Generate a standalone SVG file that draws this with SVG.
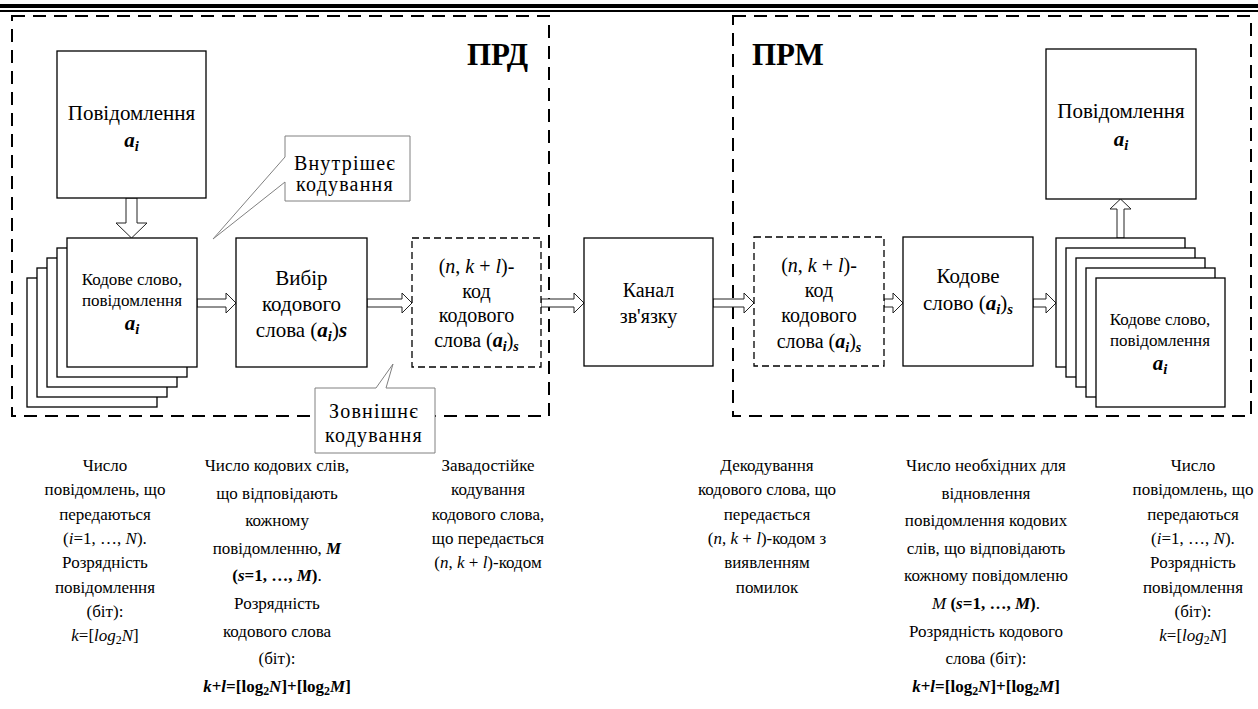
<svg xmlns="http://www.w3.org/2000/svg" width="1258" height="709" viewBox="0 0 1258 709" font-family="'Liberation Serif','Times New Roman',serif">
<style>
text{font-family:"Liberation Serif","Times New Roman",serif;fill:#000}
.box{fill:#fff;stroke:#000;stroke-width:1.3}
.cont{fill:none;stroke:#000;stroke-width:2;stroke-dasharray:13 8}
.dbox{fill:#fff;stroke:#000;stroke-width:1.3;stroke-dasharray:7 4}
.arr{fill:#fff;stroke:#222;stroke-width:1}
.call{fill:#fff;stroke:#808080;stroke-width:1}
.big{font-size:21px}
.mid{font-size:20px}
.sm{font-size:17px}
.bt{font-size:17px}
.ttl{font-size:31px;font-weight:bold}
.b{font-weight:bold}
.i{font-style:italic}
.bi{font-weight:bold;font-style:italic}
.sub{font-size:70%}
.ls{letter-spacing:1.2px}
</style>
<rect x="0" y="4" width="1258" height="4" fill="#000"/>
<rect x="0" y="10" width="1258" height="2" fill="#000"/>
<g id="containers">
<g id="prd"><rect class="cont" x="12" y="16" width="537" height="400"/><text class="ttl" x="467" y="65">ПРД</text></g>
<g id="prm"><rect class="cont" x="733" y="16" width="518" height="400"/><text class="ttl" x="752" y="65">ПРМ</text></g>
</g>
<g id="connectors">
<path class="arr" d="M126,198 H137 V223 H147 L131.5,238 L116,223 H126 Z"/>
<path class="arr" d="M1117,238 V209 H1110 L1120.5,199 L1131,209 H1124 V238 Z"/>
<path class="arr" d="M197,299 H226 V293 L236,303 L226,313 V307 H197 Z"/>
<path class="arr" d="M367,299 H402 V293 L412,303 L402,313 V307 H367 Z"/>
<path class="arr" d="M541,299 H574 V293 L584,303 L574,313 V307 H541 Z"/>
<path class="arr" d="M713,299 H744 V293 L754,303 L744,313 V307 H713 Z"/>
<path class="arr" d="M884,299 H893 V293 L903,303 L893,313 V307 H884 Z"/>
<path class="arr" d="M1033,299 H1046 V293 L1056,303 L1046,313 V307 H1033 Z"/>
</g>
<g id="msg-left"><rect class="box" x="57" y="51" width="149" height="147"/>
<text class="big" x="131.5" y="120" text-anchor="middle">Повідомлення</text>
<text class="big" x="131.5" y="147" text-anchor="middle"><tspan class="bi">a</tspan><tspan class="bi sub" dy="4">i</tspan></text></g>
<g id="stack-left">
<rect class="box" x="27" y="278" width="130" height="129"/>
<rect class="box" x="37" y="268" width="130" height="129"/>
<rect class="box" x="47" y="258" width="130" height="129"/>
<rect class="box" x="57" y="248" width="130" height="129"/>
<rect class="box" x="67" y="238" width="130" height="129"/>
<text class="sm" x="132" y="285" text-anchor="middle">Кодове слово,</text>
<text class="sm" x="132" y="306" text-anchor="middle">повідомлення</text>
<text class="big" x="132" y="330" text-anchor="middle"><tspan class="bi">a</tspan><tspan class="bi sub" dy="4">i</tspan></text></g>
<g id="callout-inner"><path class="call" d="M285,136 H410 V201 H285 V182 L213,239 L285,157 Z"/>
<text class="mid ls" x="345" y="170" text-anchor="middle">Внутрішеє</text>
<text class="mid ls" x="345" y="191" text-anchor="middle">кодування</text></g>
<g id="choose"><rect class="box" x="236" y="238" width="131" height="129"/>
<text class="big" x="301.5" y="285" text-anchor="middle">Вибір</text>
<text class="big" x="301.5" y="311" text-anchor="middle">кодового</text>
<text class="big" x="301.5" y="337" text-anchor="middle">слова (<tspan class="bi">a</tspan><tspan class="bi sub" dy="4">i</tspan><tspan dy="-4">)</tspan><tspan class="bi">s</tspan></text></g>
<g id="code-prd"><rect class="dbox" x="412" y="238" width="129" height="129"/>
<text class="mid" x="476.5" y="273" text-anchor="middle">(<tspan class="i">n</tspan>, <tspan class="i">k</tspan> + <tspan class="i">l</tspan>)-</text>
<text class="mid" x="476.5" y="298" text-anchor="middle">код</text>
<text class="mid" x="476.5" y="322" text-anchor="middle">кодового</text>
<text class="mid" x="476.5" y="347" text-anchor="middle">слова (<tspan class="bi">a</tspan><tspan class="bi sub" dy="4">i</tspan><tspan dy="-4">)</tspan><tspan class="bi sub" dy="4">s</tspan></text></g>
<g id="callout-outer"><path class="call" d="M315,388 H376 L393,364 L386,388 H435 V453 H315 Z"/>
<text class="mid ls" x="374" y="418" text-anchor="middle">Зовнішнє</text>
<text class="mid ls" x="374" y="442" text-anchor="middle">кодування</text></g>
<g id="channel"><rect class="box" x="584" y="238" width="129" height="128"/>
<text class="mid" x="648.5" y="297" text-anchor="middle">Канал</text>
<text class="mid" x="648.5" y="323" text-anchor="middle">зв'язку</text></g>
<g id="code-prm"><rect class="dbox" x="754" y="237" width="130" height="129"/>
<text class="mid" x="819" y="272" text-anchor="middle">(<tspan class="i">n</tspan>, <tspan class="i">k</tspan> + <tspan class="i">l</tspan>)-</text>
<text class="mid" x="819" y="297" text-anchor="middle">код</text>
<text class="mid" x="819" y="322" text-anchor="middle">кодового</text>
<text class="mid" x="819" y="348" text-anchor="middle">слова (<tspan class="bi">a</tspan><tspan class="bi sub" dy="4">i</tspan><tspan dy="-4">)</tspan><tspan class="bi sub" dy="4">s</tspan></text></g>
<g id="codeword"><rect class="box" x="903" y="237" width="130" height="129"/>
<text class="big" x="968" y="283" text-anchor="middle">Кодове</text>
<text class="big" x="968" y="310" text-anchor="middle">слово (<tspan class="bi">a</tspan><tspan class="bi sub" dy="4">i</tspan><tspan dy="-4">)</tspan><tspan class="bi sub" dy="4">s</tspan></text></g>
<g id="stack-right">
<rect class="box" x="1056" y="238" width="129" height="129"/>
<rect class="box" x="1066" y="248" width="129" height="129"/>
<rect class="box" x="1076" y="258" width="129" height="129"/>
<rect class="box" x="1086" y="268" width="129" height="129"/>
<rect class="box" x="1096" y="278" width="129" height="129"/>
<text class="sm" x="1160" y="325" text-anchor="middle">Кодове слово,</text>
<text class="sm" x="1160" y="346" text-anchor="middle">повідомлення</text>
<text class="big" x="1160" y="370" text-anchor="middle"><tspan class="bi">a</tspan><tspan class="bi sub" dy="4">i</tspan></text></g>
<g id="msg-right"><rect class="box" x="1046" y="49" width="150" height="150"/>
<text class="big" x="1121" y="118" text-anchor="middle">Повідомлення</text>
<text class="big" x="1121" y="146" text-anchor="middle"><tspan class="bi">a</tspan><tspan class="bi sub" dy="4">i</tspan></text></g>
<g id="note1" text-anchor="middle">
<text class="bt" x="105" y="471">Число</text>
<text class="bt" x="105" y="495.3">повідомлень, що</text>
<text class="bt" x="105" y="519.6">передаються</text>
<text class="bt" x="105" y="543.9">(<tspan class="i">i</tspan>=1, …, <tspan class="i">N</tspan>).</text>
<text class="bt" x="105" y="568.2">Розрядність</text>
<text class="bt" x="105" y="592.5">повідомлення</text>
<text class="bt" x="105" y="616.8">(біт):</text>
<text class="bt" x="105" y="641.1"><tspan class="i">k</tspan>=[<tspan class="i">log</tspan><tspan class="sub" dy="3">2</tspan><tspan class="i" dy="-3">N</tspan>]</text>
</g>
<g id="note2" text-anchor="middle">
<text class="bt" x="277" y="471">Число кодових слів,</text>
<text class="bt" x="277" y="498.6">що відповідають</text>
<text class="bt" x="277" y="526.2">кожному</text>
<text class="bt" x="277" y="553.8">повідомленню, <tspan class="bi">M</tspan></text>
<text class="bt" x="277" y="581.4"><tspan class="b">(</tspan><tspan class="bi">s</tspan><tspan class="b">=1, …, </tspan><tspan class="bi">M</tspan><tspan class="b">)</tspan>.</text>
<text class="bt" x="277" y="609">Розрядність</text>
<text class="bt" x="277" y="636.6">кодового слова</text>
<text class="bt" x="277" y="664.2">(біт):</text>
<text class="bt b" x="277" y="691.8"><tspan class="bi">k</tspan>+<tspan class="bi">l</tspan>=[log<tspan class="sub" dy="3">2</tspan><tspan class="bi" dy="-3">N</tspan>]+[log<tspan class="sub" dy="3">2</tspan><tspan class="bi" dy="-3">M</tspan>]</text>
</g>
<g id="note3" text-anchor="middle">
<text class="bt" x="488" y="471">Завадостійке</text>
<text class="bt" x="488" y="495.3">кодування</text>
<text class="bt" x="488" y="519.6">кодового слова,</text>
<text class="bt" x="488" y="543.9">що передається</text>
<text class="bt" x="488" y="568.2">(<tspan class="i">n</tspan>, <tspan class="i">k</tspan> + <tspan class="i">l</tspan>)-кодом</text>
</g>
<g id="note4" text-anchor="middle">
<text class="bt" x="767" y="471">Декодування</text>
<text class="bt" x="767" y="495.3">кодового слова, що</text>
<text class="bt" x="767" y="519.6">передається</text>
<text class="bt" x="767" y="543.9">(<tspan class="i">n</tspan>, <tspan class="i">k</tspan> + <tspan class="i">l</tspan>)-кодом з</text>
<text class="bt" x="767" y="568.2">виявленням</text>
<text class="bt" x="767" y="592.5">помилок</text>
</g>
<g id="note5" text-anchor="middle">
<text class="bt" x="986" y="471">Число необхідних для</text>
<text class="bt" x="986" y="498.6">відновлення</text>
<text class="bt" x="986" y="526.2">повідомлення кодових</text>
<text class="bt" x="986" y="553.8">слів, що  відповідають</text>
<text class="bt" x="986" y="581.4">кожному повідомленю</text>
<text class="bt" x="986" y="609"><tspan class="i">M</tspan> <tspan class="b">(</tspan><tspan class="bi">s</tspan><tspan class="b">=1, …, </tspan><tspan class="bi">M</tspan><tspan class="b">)</tspan>.</text>
<text class="bt" x="986" y="636.6">Розрядність кодового</text>
<text class="bt" x="986" y="664.2">слова (біт):</text>
<text class="bt b" x="986" y="691.8"><tspan class="bi">k</tspan>+<tspan class="bi">l</tspan>=[log<tspan class="sub" dy="3">2</tspan><tspan class="bi" dy="-3">N</tspan>]+[log<tspan class="sub" dy="3">2</tspan><tspan class="bi" dy="-3">M</tspan>]</text>
</g>
<g id="note6" text-anchor="middle">
<text class="bt" x="1193" y="471">Число</text>
<text class="bt" x="1193" y="495.3">повідомлень, що</text>
<text class="bt" x="1193" y="519.6">передаються</text>
<text class="bt" x="1193" y="543.9">(<tspan class="i">i</tspan>=1, …, <tspan class="i">N</tspan>).</text>
<text class="bt" x="1193" y="568.2">Розрядність</text>
<text class="bt" x="1193" y="592.5">повідомлення</text>
<text class="bt" x="1193" y="616.8">(біт):</text>
<text class="bt" x="1193" y="641.1"><tspan class="i">k</tspan>=[<tspan class="i">log</tspan><tspan class="sub" dy="3">2</tspan><tspan class="i" dy="-3">N</tspan>]</text>
</g>
</svg>
